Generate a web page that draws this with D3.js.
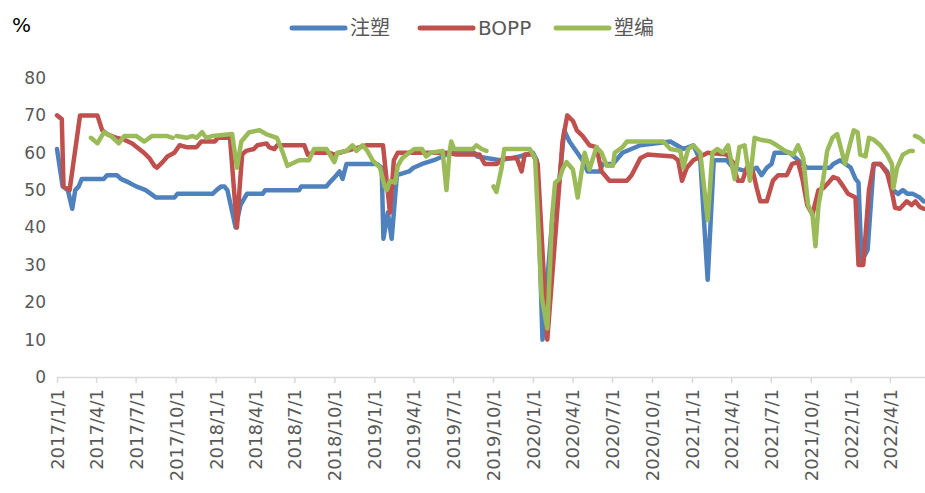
<!DOCTYPE html>
<html>
<head>
<meta charset="utf-8">
<script src="https://cdn.jsdelivr.net/npm/d3@7"></script>
<style>
  body { margin: 0; background: #fff; }
  svg { display: block; }
</style>
</head>
<body>
<svg width="925" height="493"></svg>
<script>
// series names and colours (legend order)
var seriesNames = ["注塑", "BOPP", "塑编"];
var seriesColors = ["#4f81bd", "#c0504d", "#9bbb59"];

// 注塑 - [date, value]
var zhusu = [
  ["2017-01-01",61],["2017-01-14",51],["2017-01-26",50],["2017-02-05",45],["2017-02-12",50],["2017-02-20",51],
  ["2017-02-27",53],["2017-04-19",53],["2017-04-26",54],["2017-05-19",54],["2017-05-28",53],["2017-06-16",52],
  ["2017-07-02",51],["2017-07-24",50],["2017-08-17",48],["2017-09-28",48],["2017-10-05",49],["2017-12-25",49],
  ["2018-01-03",50],["2018-01-14",51],["2018-01-21",51],["2018-01-28",50],["2018-02-16",40],["2018-02-27",46],
  ["2018-03-14",49],["2018-04-19",49],["2018-04-25",50],["2018-07-12",50],["2018-07-17",51],["2018-09-13",51],
  ["2018-09-20",52],["2018-10-06",54],["2018-10-13",55],["2018-10-20",53],["2018-10-29",57],["2019-01-07",57],
  ["2019-01-18",56],["2019-01-22",37],["2019-02-01",44],["2019-02-10",37],["2019-02-22",54],["2019-03-22",55],
  ["2019-04-01",56],["2019-04-21",57],["2019-05-18",58],["2019-06-07",59],["2019-06-23",60],["2019-08-19",60],
  ["2019-08-26",59],["2019-10-17",58],["2019-12-01",59],["2020-01-01",60],["2020-01-10",58],["2020-01-23",10],
  ["2020-02-15",43],["2020-03-02",53],["2020-03-13",66],["2020-03-25",63],["2020-04-06",61],["2020-04-24",58],
  ["2020-05-06",55],["2020-06-03",55],["2020-06-09",57],["2020-07-03",57],["2020-07-25",60],["2020-09-04",62],
  ["2020-11-12",63],["2020-12-12",61],["2021-01-04",62],["2021-01-20",58],["2021-02-06",26],["2021-02-20",58],
  ["2021-03-22",58],["2021-04-05",56],["2021-05-07",55],["2021-05-30",56],["2021-06-10",54],["2021-06-22",56],
  ["2021-07-03",57],["2021-07-10",60],["2021-08-14",60],["2021-09-12",57],["2021-09-23",56],["2021-11-15",56],
  ["2021-11-22",57],["2021-12-08",58],["2022-01-01",56],["2022-01-12",53],["2022-01-19",52],["2022-01-26",31],
  ["2022-02-09",34],["2022-02-23",57],["2022-03-10",57],["2022-03-26",55],["2022-04-09",50],["2022-04-20",49],
  ["2022-05-01",50],["2022-05-12",49],["2022-05-24",49],["2022-06-09",48],["2022-06-18",47]
];

// BOPP
var bopp = [
  ["2017-01-01",70],["2017-01-12",69],["2017-01-16",51],["2017-01-30",50],["2017-02-23",70],["2017-04-04",70],
  ["2017-04-15",66],["2017-04-26",65],["2017-05-17",64],["2017-06-05",63.5],["2017-06-23",62.5],["2017-07-20",60],
  ["2017-08-02",58.5],["2017-08-13",56.5],["2017-08-19",56],["2017-09-01",57.5],["2017-09-12",59],["2017-09-28",60],
  ["2017-10-10",62],["2017-10-26",61.5],["2017-11-18",61.5],["2017-11-29",63],["2017-12-30",63],["2018-01-06",64],
  ["2018-02-03",64],["2018-02-19",40],["2018-02-26",52],["2018-03-03",59.5],["2018-03-12",60.5],["2018-03-30",61],
  ["2018-04-07",62],["2018-04-28",62.5],["2018-05-04",61.5],["2018-05-16",61],["2018-05-23",62],["2018-07-24",62],
  ["2018-08-01",59.5],["2018-08-12",60],["2018-09-20",60],["2018-10-01",59.5],["2018-10-13",60],["2018-10-29",60.5],
  ["2018-12-15",62],["2019-01-21",62],["2019-02-06",44],["2019-02-15",58],["2019-02-24",60],["2019-06-16",60],
  ["2019-07-09",59.5],["2019-08-31",59.5],["2019-09-12",57],["2019-10-10",57],["2019-10-24",58.5],["2019-11-25",58.5],
  ["2019-12-06",55],["2019-12-13",59.5],["2020-01-01",59.5],["2020-01-12",57],["2020-02-03",10],["2020-02-10",20.5],
  ["2020-02-26",44.5],["2020-03-02",52],["2020-03-09",63],["2020-03-20",70],["2020-04-02",68.5],["2020-04-11",66],
  ["2020-04-24",64.5],["2020-05-10",62],["2020-05-26",61.5],["2020-06-07",55],["2020-06-25",52.5],["2020-08-04",52.5],
  ["2020-08-15",54],["2020-09-04",58.5],["2020-09-20",59.5],["2020-11-19",59],["2020-11-30",58],["2020-12-09",52.5],
  ["2020-12-20",56],["2021-01-04",58],["2021-02-06",60],["2021-03-22",59.5],["2021-04-05",57.5],["2021-04-16",52.5],
  ["2021-04-27",52.5],["2021-05-07",56],["2021-05-21",55],["2021-05-30",50.5],["2021-06-07",47],["2021-06-22",47],
  ["2021-07-06",52.5],["2021-07-18",54],["2021-08-07",54],["2021-08-19",57],["2021-09-02",57.5],["2021-09-12",53],
  ["2021-09-23",46],["2021-10-05",43.5],["2021-10-19",50],["2021-10-30",50.5],["2021-11-11",52],["2021-11-22",53.5],
  ["2021-12-03",53],["2021-12-15",51],["2021-12-26",49],["2022-01-12",48],["2022-01-19",30],["2022-01-30",30],
  ["2022-02-12",50],["2022-02-23",57],["2022-03-10",57],["2022-03-26",54.5],["2022-04-06",49.5],["2022-04-13",45.3],
  ["2022-04-24",45],["2022-05-10",47],["2022-05-21",46],["2022-05-30",47],["2022-06-09",45.5],["2022-06-18",45]
];

// 塑编 (null = no data)
var subian = [
  ["2017-03-20",64],["2017-04-04",62.5],["2017-04-19",65.5],["2017-05-05",64.5],["2017-05-23",62.5],["2017-06-05",64.5],
  ["2017-07-02",64.5],["2017-07-21",63],["2017-08-08",64.5],["2017-09-10",64.5],["2017-09-24",64],["2017-09-29",null],
  ["2017-10-03",64.5],["2017-10-26",64],["2017-11-09",64.5],["2017-11-18",64],["2017-12-01",65.5],["2017-12-10",64],
  ["2017-12-25",64.5],["2018-02-08",65],["2018-02-19",56],["2018-03-01",63],["2018-03-19",65.5],["2018-04-12",66],
  ["2018-04-27",65],["2018-05-22",64],["2018-06-03",60.5],["2018-06-15",56.5],["2018-07-12",58],["2018-08-04",58],
  ["2018-08-15",61],["2018-09-13",61],["2018-10-01",57.5],["2018-10-08",60],["2018-10-29",60.5],["2018-11-12",62],
  ["2018-11-21",60.5],["2018-12-05",62],["2018-12-16",60.5],["2018-12-28",58],["2019-01-14",56],["2019-01-25",51],
  ["2019-01-30",50],["2019-02-06",52.5],["2019-02-18",52],["2019-02-24",56.5],["2019-03-06",58.5],["2019-03-22",60],
  ["2019-04-03",61],["2019-04-21",61],["2019-04-30",59],["2019-05-11",60],["2019-06-07",60.5],["2019-06-16",50],
  ["2019-06-23",60],["2019-06-27",63],["2019-07-04",61],["2019-08-15",61],["2019-08-24",62],["2019-09-05",61],
  ["2019-09-16",60.5],["2019-09-25",null],["2019-10-02",51],["2019-10-09",49.5],["2019-10-21",56],["2019-10-27",61],
  ["2019-12-25",61],["2020-01-06",58.5],["2020-01-21",21.5],["2020-02-03",13],["2020-02-14",43],["2020-02-21",52],
  ["2020-03-02",53],["2020-03-09",55.5],["2020-03-18",57.5],["2020-04-02",55.5],["2020-04-13",48],["2020-04-22",55],
  ["2020-04-29",60],["2020-05-10",55.5],["2020-05-26",61.5],["2020-06-07",60],["2020-06-19",56.5],["2020-07-03",56.5],
  ["2020-07-07",60],["2020-07-25",61.5],["2020-08-04",63],["2020-10-27",63],["2020-11-12",61],["2020-12-05",60.5],
  ["2020-12-12",56],["2020-12-23",61],["2021-01-04",62],["2021-01-20",60],["2021-02-06",42],["2021-02-17",60],
  ["2021-02-28",61],["2021-03-13",60],["2021-03-25",62],["2021-04-09",53],["2021-04-20",61.5],["2021-05-02",62],
  ["2021-05-14",52.5],["2021-05-25",64],["2021-06-07",63.5],["2021-06-30",63],["2021-07-15",62],["2021-08-03",60.5],
  ["2021-08-22",59.5],["2021-09-02",62],["2021-09-14",58.5],["2021-09-25",46],["2021-10-05",43.5],["2021-10-12",35],
  ["2021-10-19",46],["2021-10-30",53],["2021-11-08",60.5],["2021-11-20",64],["2021-12-01",65],["2021-12-19",57],
  ["2022-01-01",63],["2022-01-08",66],["2022-01-17",65.5],["2022-01-23",59.5],["2022-02-04",59],["2022-02-12",64],
  ["2022-02-23",63.5],["2022-03-10",62],["2022-03-26",59.5],["2022-04-06",57],["2022-04-09",50.5],["2022-04-18",56],
  ["2022-05-01",59.5],["2022-05-17",60.5],["2022-05-24",60.5],["2022-05-27",null],["2022-05-29",64.5],["2022-06-09",64],
  ["2022-06-18",63]
];

var xTickLabels = ["2017/1/1","2017/4/1","2017/7/1","2017/10/1","2018/1/1","2018/4/1","2018/7/1","2018/10/1",
  "2019/1/1","2019/4/1","2019/7/1","2019/10/1","2020/1/1","2020/4/1","2020/7/1","2020/10/1",
  "2021/1/1","2021/4/1","2021/7/1","2021/10/1","2022/1/1","2022/4/1"];
var yTicks = [0, 10, 20, 30, 40, 50, 60, 70, 80];

var parseDay = d3.utcParse("%Y-%m-%d");
var parseTick = d3.utcParse("%Y/%m/%d");
var fmtTick = d3.utcFormat("%Y/%-m/%-d");

var svg = d3.select("svg");
var plotL = 57, plotR = 925, plotT = 78, plotB = 377; // note: "top" is taken by window.top

var x = d3.scaleUtc()
  .domain([parseDay("2017-01-01"), parseDay("2022-06-21")])
  .range([plotL, plotR]);
var y = d3.scaleLinear().domain([0, 80]).range([plotB, plotT]);

// x axis
var xAxis = svg.append("g")
  .attr("transform", "translate(0," + plotB + ")")
  .call(d3.axisBottom(x)
    .tickValues(xTickLabels.map(parseTick))
    .tickSize(6)
    .tickSizeOuter(0)
    .tickFormat(fmtTick));
xAxis.select(".domain").attr("stroke", "#d9d9d9").attr("stroke-width", 1.5);
xAxis.selectAll(".tick line").attr("stroke", "#d9d9d9").attr("stroke-width", 1.5);
xAxis.selectAll(".tick text")
  .attr("transform", "rotate(-90)")
  .attr("text-anchor", "end")
  .attr("x", -12)
  .attr("y", 0)
  .attr("dy", "0.36em")
  .attr("fill", "#595959")
  .style("font-family", "DejaVu Sans")
  .style("font-size", "18px");

// y axis labels only
var yAxis = svg.append("g")
  .attr("transform", "translate(46,0)")
  .call(d3.axisLeft(y).tickValues(yTicks).tickSize(0).tickPadding(0));
yAxis.select(".domain").remove();
yAxis.selectAll(".tick text")
  .attr("fill", "#595959")
  .style("font-family", "DejaVu Sans")
  .style("font-size", "17px");

svg.append("text")
  .attr("x", 12).attr("y", 32)
  .attr("fill", "#000")
  .style("font-family", "DejaVu Sans")
  .style("font-size", "20px")
  .text("%");

// lines
var line = d3.line()
  .defined(function(d) { return d[1] != null; })
  .x(function(d) { return x(parseDay(d[0])); })
  .y(function(d) { return y(d[1]); });

[zhusu, bopp, subian].forEach(function(s, i) {
  svg.append("path")
    .datum(s)
    .attr("fill", "none")
    .attr("stroke", seriesColors[i])
    .attr("stroke-width", 4.5)
    .attr("stroke-linejoin", "round")
    .attr("stroke-linecap", "round")
    .attr("d", line);
});

// legend
var legendX = [292, 420, 556];
var legend = svg.append("g");
seriesNames.forEach(function(name, i) {
  legend.append("line")
    .attr("x1", legendX[i]).attr("x2", legendX[i] + 53)
    .attr("y1", 28).attr("y2", 28)
    .attr("stroke", seriesColors[i])
    .attr("stroke-width", 5)
    .attr("stroke-linecap", "round");
  legend.append("text")
    .attr("x", legendX[i] + 58).attr("y", 35)
    .attr("fill", "#595959")
    .style("font-family", "'DejaVu Sans', 'Noto Sans CJK SC'")
    .style("font-size", "20px")
    .text(name);
});
</script>
</body>
</html>
